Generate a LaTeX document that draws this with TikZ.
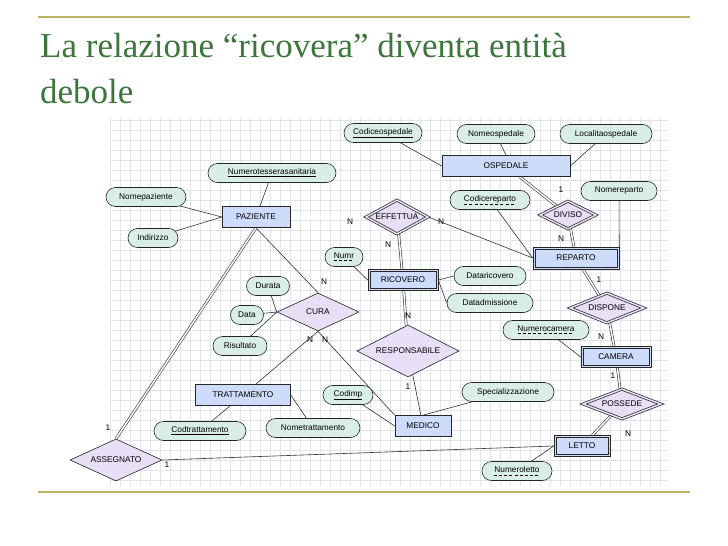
\documentclass[tikz,border=0pt]{standalone}
\usepackage{fontspec}
\setmainfont{Liberation Serif}
\newfontfamily\diag{Liberation Sans}
\usetikzlibrary{shapes.geometric,shapes.misc,backgrounds}
\definecolor{titgreen}{RGB}{60,118,60}
\definecolor{olive}{RGB}{190,180,100}
\definecolor{attrf}{RGB}{218,238,232}
\definecolor{entf}{RGB}{205,220,250}
\definecolor{relf}{RGB}{232,222,246}
\definecolor{gridc}{RGB}{225,228,234}
\tikzset{
 attr/.style={rounded rectangle,draw=black!85,line width=0.6pt,fill=attrf,font=\diag\fontsize{8.3}{10}\selectfont,minimum height=19pt,inner xsep=6pt},
 ent/.style={rectangle,draw=black!85,line width=0.6pt,fill=entf,font=\diag\fontsize{8.3}{10}\selectfont,minimum height=21pt},
 went/.style={ent},
 rel/.style={diamond,aspect=2.2,draw=black!85,line width=0.6pt,fill=relf,font=\diag\fontsize{8.3}{10}\selectfont,inner sep=1pt},
 wrel/.style={rel,double=relf,line width=0.7pt,double distance=1.5pt},
 ln/.style={draw=black!80,line width=0.6pt},
 dl/.style={draw=black!80,double,double distance=1.5pt,line width=0.6pt},
 card/.style={font=\diag\fontsize{8.3}{10}\selectfont,inner sep=0pt},
 frame/.style={draw=black!85,line width=0.6pt},
}
\newcommand{\ul}[1]{\underline{#1}}
\newcommand{\dul}[1]{\setbox0\hbox{#1}\rlap{\raisebox{-2.5pt}{\hbox to \wd0{\xleaders\hbox{\rule{3pt}{0.7pt}\hspace{2pt}}\hfill}}}\box0}
\newcommand{\wframe}[1]{\draw[frame] ([xshift=2.2pt,yshift=-2.2pt]#1.north west) rectangle ([xshift=-2.2pt,yshift=2.2pt]#1.south east);}
\begin{document}
\begin{tikzpicture}[x=1pt,y=-1pt]
\useasboundingbox (0,0) rectangle (728,546);
\draw[olive,line width=1.5pt] (38,17) -- (690,17);
\draw[olive,line width=1.5pt] (38,492) -- (690,492);
\node[anchor=base west,text=titgreen,font=\fontsize{35}{40}\selectfont,inner sep=0pt] (t1) at (40,57) {La relazione “ricovera” diventa entità};
\node[anchor=base west,text=titgreen,font=\fontsize{35}{40}\selectfont,inner sep=0pt] (t2) at (40,103) {debole};
% attributes
\node[attr,minimum width=90pt] (codosp) at (383,133) {\ul{Codiceospedale}};
\node[attr,minimum width=90pt] (nomosp) at (496,134) {Nomeospedale};
\node[attr,minimum width=104pt] (locosp) at (606,134) {Localitaospedale};
\node[attr,minimum width=140pt] (numtes) at (272,173) {\ul{Numerotesserasanitaria}};
\node[attr,minimum width=92pt] (nompaz) at (146,197) {Nomepaziente};
\node[attr,minimum width=62pt] (indir) at (153,238) {Indirizzo};
\node[attr,minimum width=92pt] (codrep) at (490,200) {\dul{Codicereparto}};
\node[attr,minimum width=88pt] (nomrep) at (619,191) {Nomereparto};
\node[attr,minimum width=50pt] (numr) at (344,257) {\dul{Numr}};
\node[attr,minimum width=84pt] (datric) at (490,276) {Dataricovero};
\node[attr,minimum width=98pt] (datadm) at (490,303) {Datadmissione};
\node[attr,minimum width=55pt] (durata) at (268,286) {Durata};
\node[attr,minimum width=45pt] (data) at (247,315) {Data};
\node[attr,minimum width=66pt] (risult) at (240,346) {Risultato};
\node[attr,minimum width=98pt] (numcam) at (546,330) {\dul{Numerocamera}};
\node[attr,minimum width=62pt] (codimp) at (348,395) {\ul{Codimp}};
\node[attr,minimum width=104pt] (spec) at (508,392) {Specializzazione};
\node[attr,minimum width=104pt] (codtra) at (200,431) {\ul{Codtrattamento}};
\node[attr,minimum width=106pt] (nomtra) at (313,428) {Nometrattamento};
\node[attr,minimum width=82pt] (numlet) at (517,471) {\dul{Numeroletto}};
% entities
\node[ent,minimum width=128pt] (osp) at (506,166) {OSPEDALE};
\node[ent,minimum width=68pt] (paz) at (256,217) {PAZIENTE};
\node[went,minimum width=86pt,minimum height=22pt] (rep) at (576,258) {REPARTO};
\node[went,minimum width=70pt,minimum height=21pt] (ric) at (403,280) {RICOVERO};
\node[went,minimum width=70pt,minimum height=21pt] (cam) at (616,357) {CAMERA};
\node[ent,minimum width=95pt] (tra) at (243,395) {TRATTAMENTO};
\node[ent,minimum width=56pt] (med) at (423,426) {MEDICO};
\node[went,minimum width=56pt,minimum height=21pt] (let) at (582,446) {LETTO};
\wframe{rep}
\wframe{ric}
\wframe{cam}
\wframe{let}
% relationships
\node[wrel,minimum width=60pt,minimum height=34pt] (eff) at (397,217) {EFFETTUA};
\node[wrel,minimum width=56pt,minimum height=28pt] (div) at (568,215) {DIVISO};
\node[wrel,minimum width=74pt,minimum height=30pt] (dis) at (607,308) {DISPONE};
\node[rel,minimum width=82pt,minimum height=38pt] (cura) at (318,312) {CURA};
\node[rel,minimum width=102pt,minimum height=52pt] (resp) at (408,351) {RESPONSABILE};
\node[wrel,minimum width=78pt,minimum height=30pt] (pos) at (622,404) {POSSEDE};
\node[rel,minimum width=92pt,minimum height=42pt] (ass) at (116,460) {ASSEGNATO};
% connectors
\begin{scope}[on background layer]
\fill[white] (0,0) rectangle (728,546);
\foreach \gx in {110,120,...,660} \draw[gridc,line width=0.5pt] (\gx,118) -- (\gx,486);
\foreach \gy in {120,130,...,480} \draw[gridc,line width=0.5pt] (110,\gy) -- (668,\gy);
\draw[ln] (codosp) -- (osp.west);
\draw[ln] (nomosp) -- (osp.north);
\draw[ln] (locosp) -- (osp.east);
\draw[ln] (numtes) -- (paz);
\draw[ln] (nompaz) -- (paz.west);
\draw[ln] (indir) -- (paz.west);
\draw[dl] (paz) -- (eff);
\draw[ln] (eff.east) -- (rep.west);
\draw[dl] (eff) -- (ric);
\draw[dl] (osp) -- (div);
\draw[dl] (div) -- (rep);
\draw[ln] (codrep) -- (rep.west);
\draw[ln] (nomrep) -- (rep.east);
\draw[ln] (numr) -- (ric.west);
\draw[ln] (ric.east) -- (datric.west);
\draw[ln] (ric.east) -- (datadm.west);
\draw[dl] (ric) -- (resp);
\draw[ln] (resp) -- (med);
\draw[dl] (rep) -- (dis);
\draw[dl] (dis) -- (cam);
\draw[ln] (numcam) -- (cam.west);
\draw[dl] (cam) -- (pos);
\draw[dl] (pos) -- (let);
\draw[ln] (numlet) -- (let.west);
\draw[ln] (paz.south) -- (cura.north);
\draw[ln] (cura.south) -- (tra);
\draw[ln] (cura.south) -- (med.north west);
\draw[ln] (durata) -- (cura.west);
\draw[ln] (data) -- (cura.west);
\draw[ln] (risult) -- (cura.west);
\draw[dl] (paz.south) -- (ass.north);
\draw[ln] (ass.east) -- (let.west);
\draw[ln] (codtra) -- (tra);
\draw[ln] (nomtra) -- (tra.east);
\draw[ln] (codimp) -- (med.west);
\draw[ln] (spec) -- (med.north);
\end{scope}
% cardinalities
\node[card] (c1) at (350,222) {N};
\node[card] (c2) at (388,245) {N};
\node[card] (c3) at (441,222) {N};
\node[card] (c4) at (561,190) {1};
\node[card] (c5) at (561,239) {N};
\node[card] (c6) at (599,280) {1};
\node[card] (c7) at (601,337) {N};
\node[card] (c8) at (613,376) {1};
\node[card] (c9) at (628,434) {N};
\node[card] (c10) at (408,316) {N};
\node[card] (c11) at (408,387) {1};
\node[card] (c12) at (324,282) {N};
\node[card] (c13) at (310,340) {N};
\node[card] (c14) at (325,340) {N};
\node[card] (c15) at (108,428) {1};
\node[card] (c16) at (167,465) {1};
\end{tikzpicture}
\end{document}
